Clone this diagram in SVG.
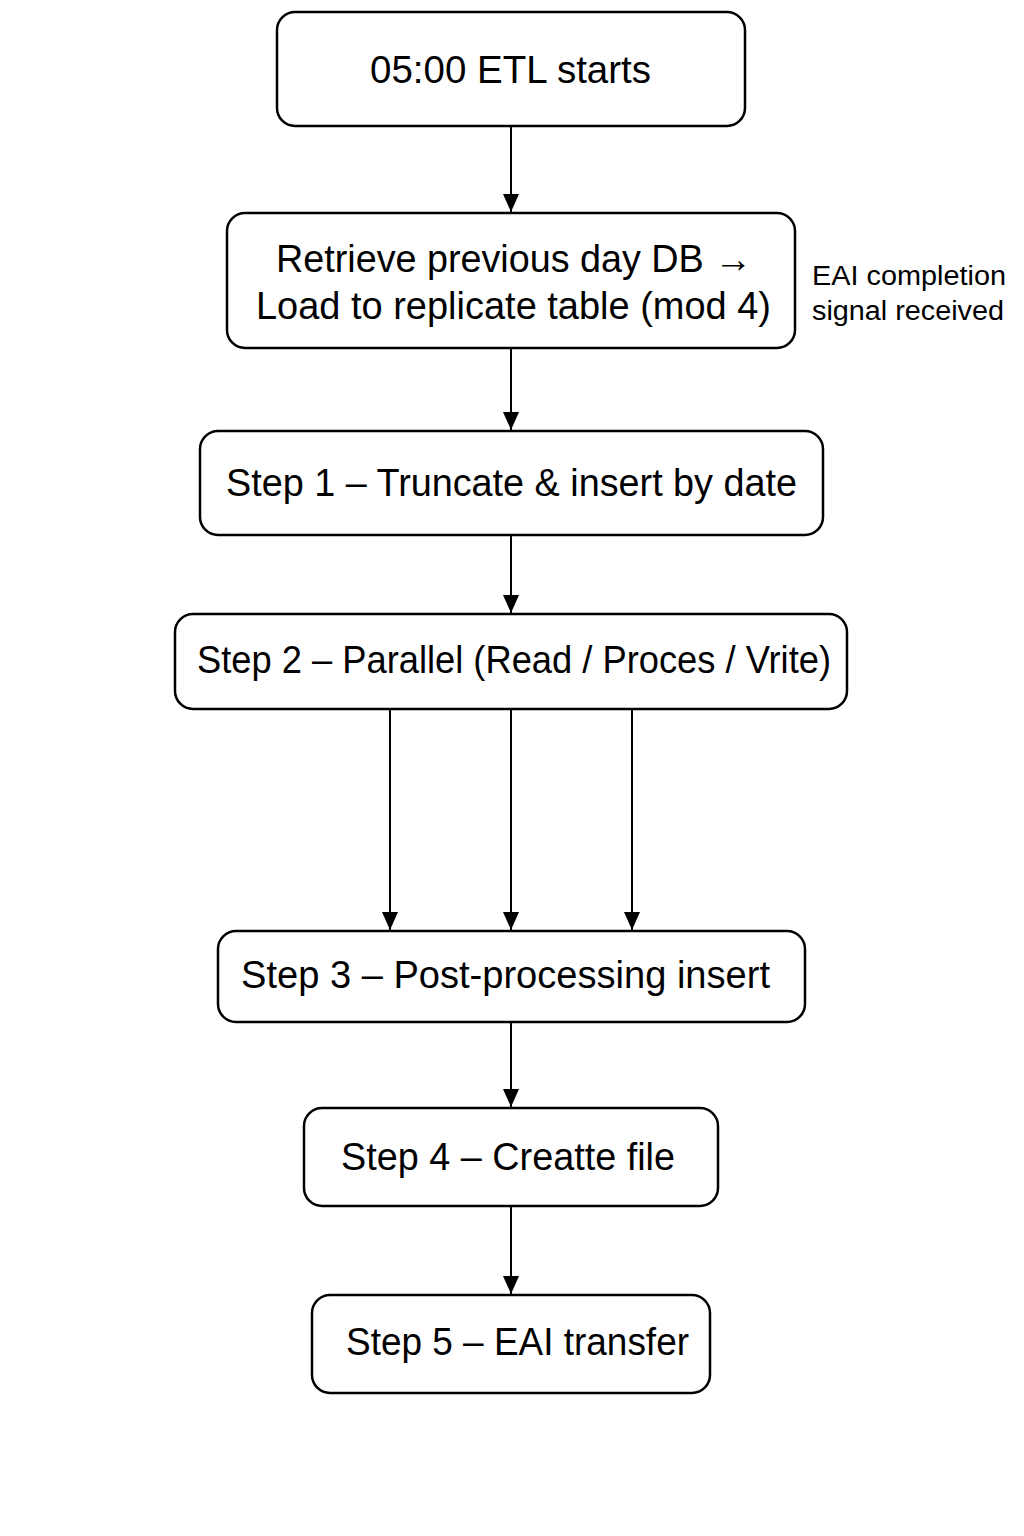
<svg xmlns="http://www.w3.org/2000/svg" width="1024" height="1536" viewBox="0 0 1024 1536">
<style>
.box{fill:#fff;stroke:#000;stroke-width:2.5}
.t{font-family:"Liberation Sans",Arial,sans-serif;font-size:38px;fill:#000}
.s{font-family:"Liberation Sans",Arial,sans-serif;font-size:27px;fill:#000}
.c{stroke:#000;stroke-width:2;fill:none;marker-end:url(#ah)}
</style>
<defs>
<marker id="ah" viewBox="0 0 18 16" refX="18" refY="8" markerWidth="18" markerHeight="16" markerUnits="userSpaceOnUse" orient="auto">
<path d="M0,0 L18,8 L0,16 Z" fill="#000"/>
</marker>
</defs>
<rect width="1024" height="1536" fill="#fff"/>
<g id="connectors">
<line class="c" x1="511" y1="126" x2="511" y2="212"/>
<line class="c" x1="511" y1="348" x2="511" y2="430"/>
<line class="c" x1="511" y1="535" x2="511" y2="613"/>
<line class="c" x1="390" y1="709" x2="390" y2="930"/>
<line class="c" x1="511" y1="709" x2="511" y2="930"/>
<line class="c" x1="632" y1="709" x2="632" y2="930"/>
<line class="c" x1="511" y1="1022" x2="511" y2="1107"/>
<line class="c" x1="511" y1="1206" x2="511" y2="1294"/>
</g>
<g id="n1"><rect class="box" x="277" y="12" width="468" height="114" rx="18"/><text class="t" x="370" y="83" textLength="281" lengthAdjust="spacingAndGlyphs">05:00 ETL starts</text></g>
<g id="n2"><rect class="box" x="227" y="213" width="568" height="135" rx="18"/><text class="t" x="276" y="272" textLength="476" lengthAdjust="spacingAndGlyphs">Retrieve previous day DB →</text><text class="t" x="256" y="319" textLength="515" lengthAdjust="spacingAndGlyphs">Load to replicate table (mod 4)</text></g>
<g id="note"><text class="s" x="812" y="285" textLength="194" lengthAdjust="spacingAndGlyphs">EAI completion</text><text class="s" x="812" y="320" textLength="192" lengthAdjust="spacingAndGlyphs">signal received</text></g>
<g id="n3"><rect class="box" x="200" y="431" width="623" height="104" rx="18"/><text class="t" x="226" y="496" textLength="571" lengthAdjust="spacingAndGlyphs">Step 1 – Truncate &amp; insert by date</text></g>
<g id="n4"><rect class="box" x="175" y="614" width="672" height="95" rx="18"/><text class="t" x="197" y="673" textLength="634" lengthAdjust="spacingAndGlyphs">Step 2 – Parallel (Read / Proces / Vrite)</text></g>
<g id="n5"><rect class="box" x="218" y="931" width="587" height="91" rx="18"/><text class="t" x="241" y="988" textLength="529" lengthAdjust="spacingAndGlyphs">Step 3 – Post-processing insert</text></g>
<g id="n6"><rect class="box" x="304" y="1108" width="414" height="98" rx="18"/><text class="t" x="341" y="1170" textLength="334" lengthAdjust="spacingAndGlyphs">Step 4 – Creatte file</text></g>
<g id="n7"><rect class="box" x="312" y="1295" width="398" height="98" rx="18"/><text class="t" x="346" y="1355" textLength="343" lengthAdjust="spacingAndGlyphs">Step 5 – EAI transfer</text></g>
</svg>
